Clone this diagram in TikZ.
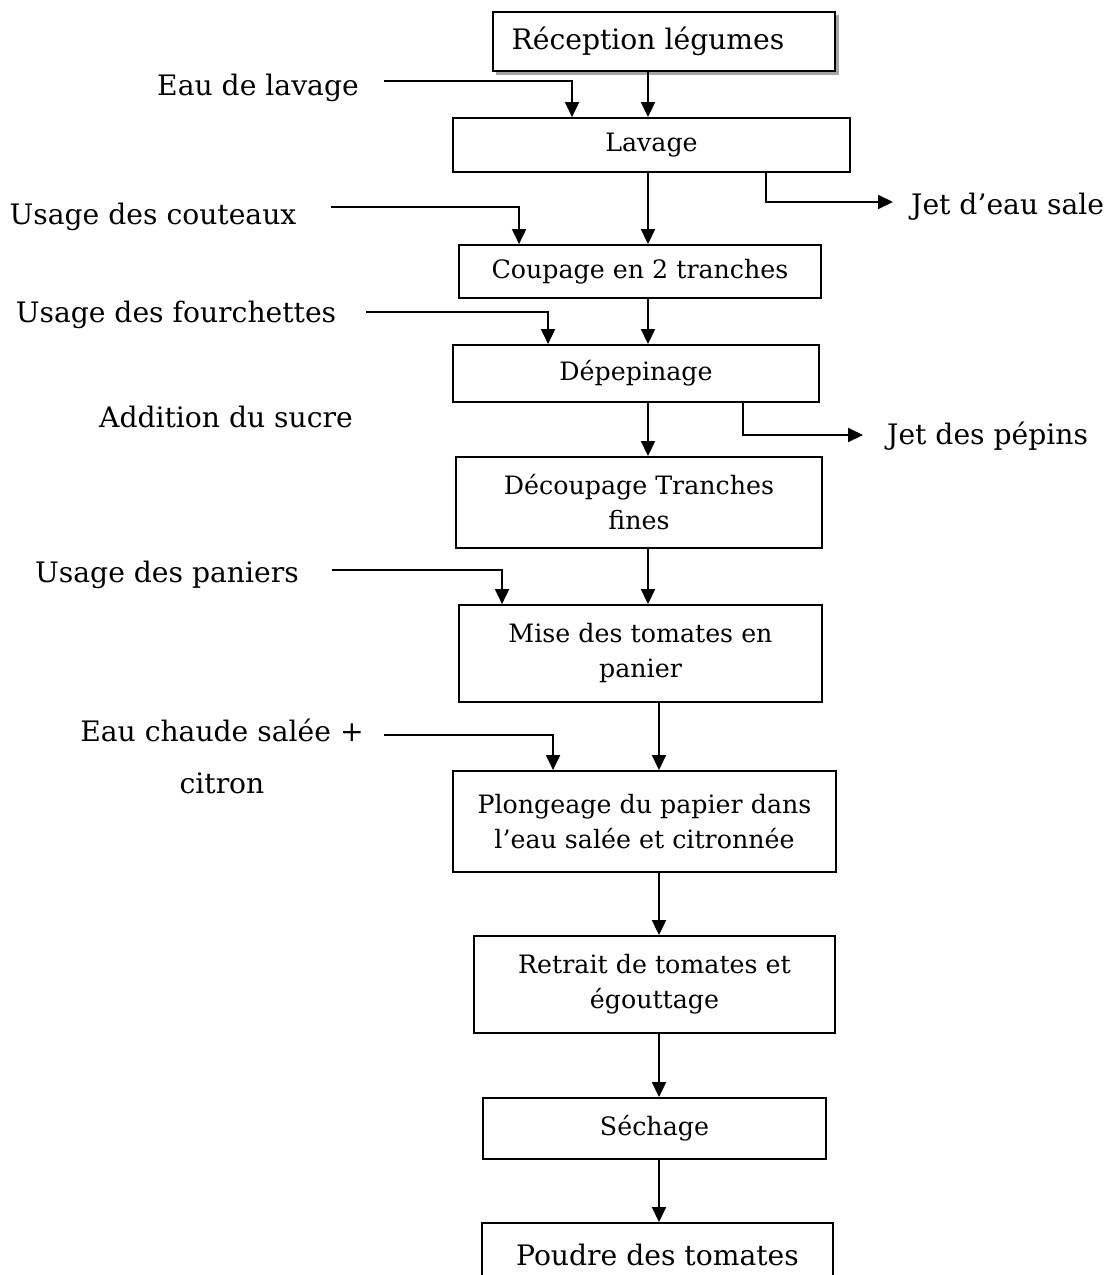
\documentclass[tikz,border=0pt]{standalone}
\usepackage{fontspec}
\setmainfont{DejaVu Serif}
\usetikzlibrary{arrows.meta}
\begin{document}
\begin{tikzpicture}[x=1pt,y=-1pt,
  stepbox/.style={draw,line width=1.9pt,inner sep=0pt,align=center,
    font=\fontsize{25.3}{35}\selectfont},
  bigtext/.style={font=\fontsize{28.2}{32}\selectfont,inner sep=0pt},
  flow/.style={line width=1.9pt,-{Triangle[length=15pt,width=14pt]}},
  feed/.style={line width=1.9pt,-{Triangle[length=15pt,width=14pt]}}]
\useasboundingbox (0,0) rectangle (1118,1275);
% process steps
\fill[gray!70] (496,15) rectangle (839,75);
\node[stepbox,fill=white,minimum width=342pt,minimum height=59pt,font=\fontsize{28.2}{32}\selectfont] (rec) at (664,41.5) {\hspace*{-32pt}Réception légumes};
\node[stepbox,minimum width=397pt,minimum height=54pt] (lav) at (651.5,145) {Lavage};
\node[stepbox,minimum width=362pt,minimum height=53pt] (coup) at (640,271.5) {Coupage en 2 tranches};
\node[stepbox,minimum width=366pt,minimum height=57pt] (dep) at (636,373.5) {Dépepinage};
\node[stepbox,minimum width=366pt,minimum height=91pt] (dec) at (639,502.5) {Découpage Tranches\\fines};
\node[stepbox,minimum width=363pt,minimum height=97pt] (mise) at (640.5,653.5) {Mise des tomates en\\panier};
\node[stepbox,minimum width=383pt,minimum height=101pt] (plong) at (644.5,821.5) {Plongeage du papier dans\\l’eau salée et citronnée};
\node[stepbox,minimum width=361pt,minimum height=97pt] (retr) at (654.5,984.5) {Retrait de tomates et\\égouttage};
\node[stepbox,minimum width=343pt,minimum height=61pt] (sech) at (654.5,1128.5) {Séchage};
\node[stepbox,minimum width=351pt,minimum height=64pt,font=\fontsize{28.2}{32}\selectfont] (poudre) at (657.5,1255) {Poudre des tomates};
% side labels
\node[bigtext] (eaulav) at (258,88) {Eau de lavage};
\node[bigtext] (cout) at (153,217) {Usage des couteaux};
\node[bigtext] (fourch) at (176,315) {Usage des fourchettes};
\node[bigtext] (sucre) at (226,417) {Addition du sucre};
\node[bigtext] (pan) at (167,575) {Usage des paniers};
\node[bigtext,align=center,font=\fontsize{28.2}{52}\selectfont] (chaude) at (222,756) {Eau chaude salée +\\citron};
\node[bigtext,anchor=west] (jeteau) at (911,207) {Jet d’eau sale};
\node[bigtext,anchor=west] (jetpep) at (887,436) {Jet des pépins};
% main line columns
\coordinate (ca) at (648,0);
\coordinate (cb) at (659,0);
% main flow
\draw[flow] (rec.south -| ca) -- (lav.north -| ca);
\draw[flow] (lav.south -| ca) -- (coup.north -| ca);
\draw[flow] (coup.south -| ca) -- (dep.north -| ca);
\draw[flow] (dep.south -| ca) -- (dec.north -| ca);
\draw[flow] (dec.south -| ca) -- (mise.north -| ca);
\draw[flow] (mise.south -| cb) -- (plong.north -| cb);
\draw[flow] (plong.south -| cb) -- (retr.north -| cb);
\draw[flow] (retr.south -| cb) -- (sech.north -| cb);
\draw[flow] (sech.south -| cb) -- (poudre.north -| cb);
% inputs
\coordinate (in1) at (384,81);
\coordinate (in2) at (331,207);
\coordinate (in3) at (366,312);
\coordinate (in4) at (332,570);
\coordinate (in5) at (384,735);
\draw[feed] (in1) -| ([xshift=120pt]lav.north west);
\draw[feed] (in2) -| ([xshift=61pt]coup.north west);
\draw[feed] (in3) -| ([xshift=96pt]dep.north west);
\draw[feed] (in4) -| ([xshift=44pt]mise.north west);
\draw[feed] (in5) -| ([xshift=101pt]plong.north west);
% outputs
\draw[feed] ([xshift=314pt]lav.south west) |- ([xshift=-18pt,yshift=5pt]jeteau.west);
\draw[feed] ([xshift=291pt]dep.south west) |- ([xshift=-24pt,yshift=1pt]jetpep.west);
\end{tikzpicture}
\end{document}
